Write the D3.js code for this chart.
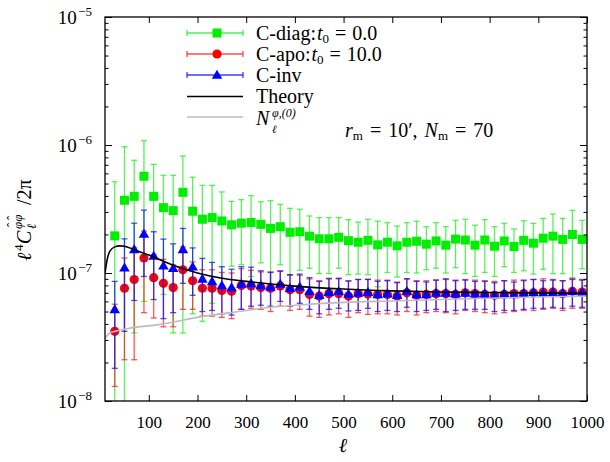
<!DOCTYPE html>
<html><head><meta charset="utf-8">
<script src="https://cdn.jsdelivr.net/npm/d3@7"></script>
<style>body{margin:0;background:#fff} text{font-family:"Liberation Serif","Times New Roman",serif;fill:#000}</style>
</head><body><svg id="c" width="610" height="462"></svg>
<script>
// ---- data ----
const ell = [30,50,70,90,110,130,150,170,190,210,230,250,270,290,310,330,350,370,390,410,430,450,470,490,510,530,550,570,590,610,630,650,670,690,710,730,750,770,790,810,830,850,870,890,910,930,950,970,990];
const diagVal = [1.95e-7,3.7e-7,3.97e-7,5.7e-7,3.97e-7,3.24e-7,3.07e-7,4.27e-7,3.04e-7,2.63e-7,2.71e-7,2.55e-7,2.38e-7,2.45e-7,2.48e-7,2.4e-7,2.23e-7,2.3e-7,2.08e-7,2.1e-7,1.94e-7,1.85e-7,1.85e-7,1.9e-7,1.79e-7,1.74e-7,1.8e-7,1.66e-7,1.74e-7,1.63e-7,1.74e-7,1.77e-7,1.68e-7,1.78e-7,1.65e-7,1.84e-7,1.81e-7,1.65e-7,1.81e-7,1.62e-7,1.78e-7,1.61e-7,1.8e-7,1.71e-7,1.87e-7,1.94e-7,1.83e-7,2.0e-7,1.83e-7];
const diagErr = [3.21e-7,6.0e-7,3.63e-7,5.1e-7,3.09e-7,2.56e-7,2.73e-7,3.93e-7,2.56e-7,2.21e-7,2.13e-7,1.75e-7,1.25e-7,1.29e-7,1.54e-7,1.2e-7,1.44e-7,1.14e-7,1.12e-7,1.05e-7,0.85e-7,0.86e-7,0.86e-7,0.81e-7,0.82e-7,0.76e-7,0.83e-7,0.88e-7,0.73e-7,0.7e-7,0.73e-7,0.77e-7,0.62e-7,0.69e-7,0.65e-7,0.74e-7,0.82e-7,0.71e-7,0.8e-7,0.68e-7,0.66e-7,0.6e-7,0.76e-7,0.73e-7,0.8e-7,0.95e-7,0.84e-7,1.09e-7,0.75e-7];
const apoVal = [3.5e-8,7.6e-8,8.9e-8,1.31e-7,9.2e-8,8.3e-8,7.7e-8,1.06e-7,8.7e-8,7.6e-8,7.6e-8,7.3e-8,7.2e-8,8.0e-8,7.9e-8,7.7e-8,7.6e-8,7.9e-8,7.4e-8,7.4e-8,6.8e-8,6.6e-8,6.9e-8,6.9e-8,6.6e-8,6.9e-8,6.85e-8,6.8e-8,6.8e-8,6.6e-8,7.0e-8,6.7e-8,6.8e-8,6.9e-8,6.9e-8,6.8e-8,7.0e-8,6.9e-8,6.8e-8,6.7e-8,6.8e-8,6.9e-8,6.9e-8,7.0e-8,7.1e-8,7.1e-8,6.9e-8,7.2e-8,7.1e-8];
const apoErr = [2.2e-8,5.5e-8,6.8e-8,8.2e-8,4.75e-8,4.5e-8,3.9e-8,5.4e-8,3.5e-8,3.0e-8,3.0e-8,2.8e-8,2.8e-8,2.8e-8,2.6e-8,2.5e-8,2.6e-8,2.4e-8,2.3e-8,2.2e-8,2.2e-8,2.1e-8,2.2e-8,2.1e-8,2.1e-8,2.0e-8,2.1e-8,2.0e-8,2.0e-8,1.9e-8,2.0e-8,2.0e-8,1.9e-8,1.9e-8,2.0e-8,2.0e-8,1.9e-8,1.9e-8,1.9e-8,1.9e-8,1.9e-8,1.9e-8,1.8e-8,1.9e-8,1.9e-8,1.8e-8,1.8e-8,1.9e-8,1.8e-8];
const invVal = [5.2e-8,1.1e-7,1.53e-7,2.02e-7,1.36e-7,1.14e-7,1.09e-7,1.53e-7,1.12e-7,9.0e-8,8.6e-8,8.0e-8,7.7e-8,8.2e-8,8.3e-8,8.0e-8,7.8e-8,8.2e-8,7.6e-8,7.8e-8,7.2e-8,6.7e-8,7.1e-8,7.2e-8,6.85e-8,7.0e-8,7.1e-8,6.8e-8,6.9e-8,6.7e-8,7.2e-8,6.8e-8,6.8e-8,7.0e-8,7.0e-8,6.9e-8,7.0e-8,6.9e-8,6.9e-8,6.7e-8,6.9e-8,6.8e-8,7.0e-8,7.1e-8,7.0e-8,7.1e-8,7.0e-8,7.2e-8,7.1e-8];
const invErr = [3.4e-8,7.5e-8,9.2e-8,1.08e-7,7.4e-8,7.0e-8,6.0e-8,7.0e-8,4.5e-8,4.0e-8,3.5e-8,3.2e-8,3.0e-8,3.0e-8,2.8e-8,2.4e-8,2.3e-8,2.2e-8,2.1e-8,2.0e-8,2.0e-8,1.9e-8,1.9e-8,1.9e-8,1.8e-8,1.9e-8,1.8e-8,1.8e-8,1.8e-8,1.7e-8,1.8e-8,1.8e-8,1.7e-8,1.8e-8,2.0e-8,1.8e-8,1.8e-8,1.7e-8,1.7e-8,1.7e-8,1.8e-8,1.7e-8,1.8e-8,1.8e-8,1.7e-8,1.7e-8,1.7e-8,1.7e-8,1.7e-8];
const theoryL = [10,15,20,30,40,50,70,100,150,200,250,300,400,500,600,700,800,900,1000];
const theoryV = [1.0e-7,1.3e-7,1.48e-7,1.6e-7,1.63e-7,1.62e-7,1.52e-7,1.38e-7,1.15e-7,1.0e-7,9.1e-8,8.6e-8,7.9e-8,7.5e-8,7.25e-8,7.1e-8,7.05e-8,7.0e-8,6.95e-8];
const noiseL = [10,20,30,60,120,200,300,330,400,500,600,700,800,900,1000];
const noiseV = [3.1e-8,3.4e-8,3.5e-8,3.7e-8,3.95e-8,4.5e-8,5.1e-8,5.3e-8,5.6e-8,5.9e-8,6.05e-8,6.2e-8,6.35e-8,6.5e-8,6.6e-8];
const xTicks = [100,200,300,400,500,600,700,800,900,1000];
const yDecades = [-8,-7,-6,-5];
const yMinorMult = [2,3,4,5,6,7,8,9];

// ---- layout ----
const L=105,R=587,T=17,B=401;
const svg=d3.select("#c");
const x=d3.scaleLinear().domain([10,1000]).range([L,R]);
const y=d3.scaleLog().domain([1e-8,1e-5]).range([B,T]);
const FS=17, FL=20, FSUB=13;

svg.append("defs").append("clipPath").attr("id","clip").append("rect").attr("x",L).attr("y",T).attr("width",R-L).attr("height",B-T);
const plot=svg.append("g").attr("clip-path","url(#clip)");

function marker(g,shape,px,py,color){
  if(shape==="square") g.append("rect").attr("x",px-4.5).attr("y",py-4.5).attr("width",9).attr("height",9).attr("fill",color);
  else if(shape==="circle") g.append("circle").attr("cx",px).attr("cy",py).attr("r",4.6).attr("fill",color);
  else g.append("path").attr("d",d3.symbol(d3.symbolTriangle,48)()).attr("transform",`translate(${px},${py+0.8})`).attr("fill",color);
}
function series(vals,errs,color,barColor,shape){
  const g=plot.append("g");
  ell.forEach((l,i)=>{
    const v=vals[i],e=errs[i];
    const hi=v+e, lo=Math.max(v-e,1e-10);
    const px=x(l);
    g.append("line").attr("x1",px).attr("x2",px).attr("y1",y(lo)).attr("y2",y(hi))
      .attr("stroke",barColor).attr("stroke-width",1.3).attr("stroke-opacity",0.75);
    [lo,hi].forEach(q=>{
      g.append("line").attr("x1",px-3).attr("x2",px+3).attr("y1",y(q)).attr("y2",y(q))
        .attr("stroke",barColor).attr("stroke-width",1.3).attr("stroke-opacity",0.75);
    });
  });
  ell.forEach((l,i)=>marker(g,shape,x(l),y(vals[i]),color));
}
series(diagVal,diagErr,"#00ee00","#22ee22","square");
series(apoVal,apoErr,"#ff0000","#ff2020","circle");
series(invVal,invErr,"#0000ff","#1010ff","triangle");

const line=d3.line().x(d=>x(d[0])).y(d=>y(d[1])).curve(d3.curveMonotoneX);
plot.append("path").attr("d",line(noiseL.map((l,i)=>[l,noiseV[i]]))).attr("fill","none").attr("stroke","#bdbdbd").attr("stroke-width",1.6);
plot.append("path").attr("d",line(theoryL.map((l,i)=>[l,theoryV[i]]))).attr("fill","none").attr("stroke","#000").attr("stroke-width",1.6);

// ---- axes ----
svg.append("rect").attr("x",L).attr("y",T).attr("width",R-L).attr("height",B-T).attr("fill","none").attr("stroke","#000").attr("stroke-width",1.3);
const xb=svg.append("g").attr("transform",`translate(0,${B})`).call(d3.axisBottom(x).tickValues(xTicks).tickSize(-6).tickPadding(22).tickFormat(d3.format("d")));
const xt=svg.append("g").attr("transform",`translate(0,${T})`).call(d3.axisTop(x).tickValues(xTicks).tickSize(-6).tickFormat(""));
[xb,xt].forEach(g=>{g.attr("font-family",null).attr("font-size",null);g.select(".domain").remove();g.selectAll("line").attr("stroke","#000").attr("stroke-width",1);});
xb.selectAll("text").style("font-family","Liberation Serif").attr("font-size",FS).attr("fill","#000").attr("dy","0.3em");

const minorVals=[];
yDecades.slice(0,3).forEach(d=>yMinorMult.forEach(m=>minorVals.push(m*Math.pow(10,d))));
const majorVals=yDecades.map(d=>Math.pow(10,d));
const yl=svg.append("g").attr("transform",`translate(${L},0)`);
const yr=svg.append("g").attr("transform",`translate(${R},0)`);
yl.call(d3.axisLeft(y).tickValues(majorVals).tickSize(-7).tickFormat(""));
yl.append("g").call(d3.axisLeft(y).tickValues(minorVals).tickSize(-3.5).tickFormat(""));
yr.call(d3.axisRight(y).tickValues(majorVals).tickSize(-7).tickFormat(""));
yr.append("g").call(d3.axisRight(y).tickValues(minorVals).tickSize(-3.5).tickFormat(""));
[yl,yr].forEach(g=>{g.selectAll(".domain").remove();g.selectAll("line").attr("stroke","#000").attr("stroke-width",1);});

yDecades.forEach(d=>{
  const t=svg.append("text").attr("x",92).attr("y",y(Math.pow(10,d))+6.5).attr("text-anchor","end").attr("font-size",19);
  t.append("tspan").text("10");
  t.append("tspan").attr("dy",-8).attr("dx",1.5).attr("font-size",13).text("\u2212"+Math.abs(d));
});

// ---- labels ----
svg.append("text").attr("x",343).attr("y",452).attr("text-anchor","middle").attr("font-size",FL).attr("font-style","italic").text("\u2113");

function rich(parent,segs){
  segs.forEach(s=>{
    const ts=parent.append("tspan").text(s.t);
    if(s.i) ts.attr("font-style","italic");
    if(s.fs) ts.attr("font-size",s.fs);
    if(s.dy) ts.attr("dy",s.dy);
    if(s.dx) ts.attr("dx",s.dx);
  });
}
// y-axis label, built piece by piece in a rotated group
const yg=svg.append("g").attr("transform","translate(31,262) rotate(-90)");
const put=(g,t,px,py,fs,it)=>g.append("text").attr("x",px).attr("y",py).attr("font-size",fs).attr("font-style",it?"italic":null).text(t);
put(yg,"\u2113",1,0,FL,1);
put(yg,"4",11,-8,FSUB,0);
put(yg,"C",18,0,FL,1);
put(yg,"\u03c6\u03c6",33,-9,FSUB,1);
put(yg,"\u02c6",35,-15,FSUB,0);
put(yg,"\u02c6",42,-15,FSUB,0);
put(yg,"\u2113",33,5,FSUB,1);
put(yg,"/2\u03c0",57,0,FL,0);

const ann=svg.append("text").attr("x",345).attr("y",137).attr("font-size",FL);
rich(ann,[{t:"r",i:1},{t:"m",fs:FSUB,dy:3},{t:"=",dy:-3,dx:7},{t:"10\u2032,",dx:7},{t:"N",i:1,dx:7},{t:"m",fs:FSUB,dy:3},{t:"=",dy:-3,dx:7},{t:"70",dx:7}]);

// ---- legend ----
const legRows=[33,54,75,96.5,117];
const lx1=187,lx2=243,tx=256;
const legend=svg.append("g");
[["#22ee22","#00ee00","square"],["#ff2020","#ff0000","circle"],["#1010ff","#0000ff","triangle"]].forEach((c,i)=>{
  const yy=legRows[i];
  legend.append("line").attr("x1",lx1).attr("x2",lx2).attr("y1",yy).attr("y2",yy).attr("stroke",c[0]).attr("stroke-width",1.3).attr("stroke-opacity",0.8);
  [lx1,lx2].forEach(xx=>legend.append("line").attr("x1",xx).attr("x2",xx).attr("y1",yy-3).attr("y2",yy+3).attr("stroke",c[0]).attr("stroke-width",1.3).attr("stroke-opacity",0.8));
  marker(legend,c[2],(lx1+lx2)/2+2,yy,c[1]);
});
legend.append("line").attr("x1",lx1).attr("x2",lx2).attr("y1",legRows[3]).attr("y2",legRows[3]).attr("stroke","#000").attr("stroke-width",1.6);
legend.append("line").attr("x1",lx1).attr("x2",lx2).attr("y1",legRows[4]).attr("y2",legRows[4]).attr("stroke","#bdbdbd").attr("stroke-width",1.6);
const lt=(i,dy)=>legend.append("text").attr("x",tx).attr("y",legRows[i]+dy).attr("font-size",FL);
rich(lt(0,6.5),[{t:"C-diag:"},{t:"t",i:1,dx:1},{t:"0",fs:FSUB,dy:3},{t:"=",dy:-3,dx:6},{t:"0.0",dx:6}]);
rich(lt(1,6.5),[{t:"C-apo:"},{t:"t",i:1,dx:1},{t:"0",fs:FSUB,dy:3},{t:"=",dy:-3,dx:6},{t:"10.0",dx:6}]);
rich(lt(2,6.5),[{t:"C-inv"}]);
rich(lt(3,6.5),[{t:"Theory"}]);
// N_l^{phi,(0)}: base, superscript and subscript placed separately
put(legend,"N",tx,125,FL,1);
put(legend,"\u03c6,(0)",tx+16,116.5,12,1);
put(legend,"\u2113",tx+16,132.5,11,1);
</script></body></html>
